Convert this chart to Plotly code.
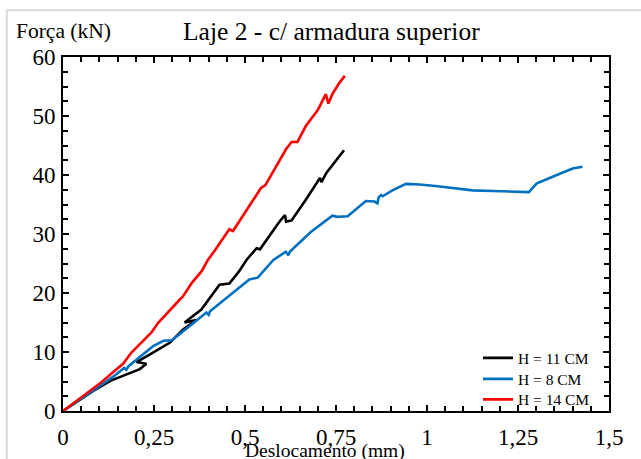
import plotly.graph_objects as go

# ---------------- data ----------------
title_text = "Laje 2 - c/ armadura superior"
x_title = "Deslocamento (mm)"
y_title = "Força (kN)"

x_tickvals = [0, 0.25, 0.5, 0.75, 1, 1.25, 1.5]
x_ticktext = ["0", "0,25", "0,5", "0,75", "1", "1,25", "1,5"]
y_tickvals = [0, 10, 20, 30, 40, 50, 60]

names = ["H = 11 CM", "H = 8 CM", "H = 14 CM"]
colors = ["#000000", "#0070C0", "#FF0000"]

# H = 11 CM (black)
x_h11 = [0, 0.04, 0.083, 0.13, 0.165, 0.211, 0.229, 0.202, 0.239, 0.294, 0.33, 0.366,
         0.334, 0.38, 0.430, 0.457, 0.484, 0.504, 0.532, 0.541, 0.596, 0.610, 0.613,
         0.628, 0.668, 0.706, 0.710, 0.724, 0.772]
y_h11 = [0, 1.6, 3.4, 5.1, 6.0, 7.1, 8.0, 8.3, 9.6, 11.6, 13.8, 15.4,
         15.0, 17.2, 21.4, 21.6, 23.7, 25.6, 27.6, 27.4, 32.2, 33.2, 32.1,
         32.3, 35.9, 39.5, 38.8, 40.4, 44.2]

# H = 8 CM (blue)
x_h8 = [0, 0.04, 0.065, 0.10, 0.14, 0.168, 0.174, 0.18, 0.20, 0.248, 0.276, 0.299,
        0.35, 0.394, 0.400, 0.404, 0.46, 0.512, 0.535, 0.578, 0.612, 0.619, 0.623,
        0.68, 0.740, 0.754, 0.782, 0.800, 0.832, 0.856, 0.864, 0.867, 0.874, 0.878,
        0.905, 0.942, 0.96, 0.98, 1.03, 1.09, 1.125, 1.18, 1.255, 1.28, 1.29, 1.302,
        1.345, 1.40, 1.427]
y_h8 = [0, 1.7, 2.8, 4.3, 5.9, 7.3, 7.0, 7.6, 8.6, 11.0, 11.9, 12.0,
        14.5, 16.7, 16.3, 16.9, 19.7, 22.3, 22.6, 25.6, 27.0, 26.4, 27.0,
        30.3, 33.1, 32.9, 33.0, 33.9, 35.6, 35.5, 35.2, 36.2, 36.6, 36.4,
        37.4, 38.5, 38.5, 38.4, 38.1, 37.7, 37.4, 37.3, 37.1, 37.1, 37.8, 38.6,
        39.7, 41.1, 41.4]

# H = 14 CM (red)
x_h14 = [0, 0.056, 0.10, 0.13, 0.165, 0.188, 0.215, 0.243, 0.262, 0.294, 0.321, 0.328,
         0.355, 0.381, 0.398, 0.417, 0.457, 0.467, 0.50, 0.544, 0.556, 0.585, 0.613,
         0.628, 0.644, 0.667, 0.700, 0.722, 0.729, 0.740, 0.758, 0.774]
y_h14 = [0, 2.5, 4.6, 6.2, 8.0, 9.9, 11.6, 13.3, 15.0, 17.2, 18.9, 19.3,
         21.8, 23.7, 25.6, 27.2, 30.8, 30.5, 33.6, 37.8, 38.3, 41.3, 44.4,
         45.6, 45.6, 48.3, 51.0, 53.7, 52.1, 53.7, 55.5, 56.8]

series_x = [x_h11, x_h8, x_h14]
series_y = [y_h11, y_h8, y_h14]
legend_ids = ["legend", "legend2", "legend3"]
legend_rows = [0.1489, 0.0895, 0.0316]

FONT = "Liberation Serif, Times New Roman, serif"

fig = go.Figure()
for nm, c, xs, ys, lg in zip(names, colors, series_x, series_y, legend_ids):
    fig.add_trace(go.Scatter(x=xs, y=ys, mode="lines", name=nm, legend=lg,
                             line=dict(color=c, width=2.6)))

legend_style = dict(x=0.76, xanchor="left", yanchor="middle",
                    bgcolor="rgba(0,0,0,0)", borderwidth=0,
                    font=dict(family=FONT, size=15.5, color="black"))
legends = {lg: dict(y=yr, **legend_style) for lg, yr in zip(legend_ids, legend_rows)}

axis_common = dict(showgrid=False, zeroline=False, showline=True, linecolor="black",
                   linewidth=2, ticks="inside", ticklen=6, tickwidth=1.5,
                   tickcolor="black", mirror="ticks", automargin=False,
                   tickfont=dict(family=FONT, size=23, color="black"))

fig.update_layout(
    width=641, height=459,
    margin=dict(l=63, r=32, t=57, b=48, autoexpand=False),
    paper_bgcolor="white", plot_bgcolor="white",
    font=dict(family=FONT, color="black"),
    showlegend=True,
    **legends,
    xaxis=dict(range=[0, 1.5], tickmode="array", tickvals=x_tickvals, ticktext=x_ticktext,
               ticklabelstandoff=4,
               minor=dict(ticks="inside", ticklen=5, tickwidth=1.5, tickcolor="black",
                          dtick=0.05, showgrid=False),
               **axis_common),
    yaxis=dict(range=[0, 60], tickmode="array", tickvals=y_tickvals,
               ticklabelstandoff=1,
               minor=dict(ticks="inside", ticklen=5, tickwidth=1.5, tickcolor="black",
                          dtick=2.5, showgrid=False),
               **axis_common),
    xaxis2=dict(overlaying="x", range=[0, 1.5], tickmode="array", tickvals=x_tickvals,
                ticks="outside", ticklen=6, tickwidth=1.5, tickcolor="black",
                showticklabels=False, showgrid=False, zeroline=False, showline=False,
                mirror="ticks", automargin=False),
    yaxis2=dict(overlaying="y", range=[0, 60], tickmode="array", tickvals=y_tickvals,
                ticks="outside", ticklen=6, tickwidth=1.5, tickcolor="black",
                showticklabels=False, showgrid=False, zeroline=False, showline=False,
                mirror="ticks", automargin=False),
    shapes=[dict(type="rect", xref="paper", yref="paper", x0=-0.103, x1=1.3,
                 y0=-0.4, y1=1.132, line=dict(color="#d9d9d9", width=2),
                 fillcolor="rgba(0,0,0,0)", layer="below")],
    annotations=[
        dict(text=title_text, xref="paper", yref="paper", x=0.492, y=1.073,
             xanchor="center", yanchor="middle", showarrow=False,
             font=dict(family=FONT, size=25.5, color="black")),
        dict(text=y_title, xref="paper", yref="paper", x=0.0, y=1.073,
             xanchor="center", yanchor="middle", showarrow=False,
             font=dict(family=FONT, size=21.5, color="black")),
        dict(text=x_title, xref="paper", yref="paper", x=0.479, y=-0.114,
             xanchor="center", yanchor="middle", showarrow=False,
             font=dict(family=FONT, size=19.5, color="black")),
    ],
)

fig.write_html("out.html", config={"displayModeBar": False},
               post_script="document.body.style.margin='0';document.body.style.padding='0';")
